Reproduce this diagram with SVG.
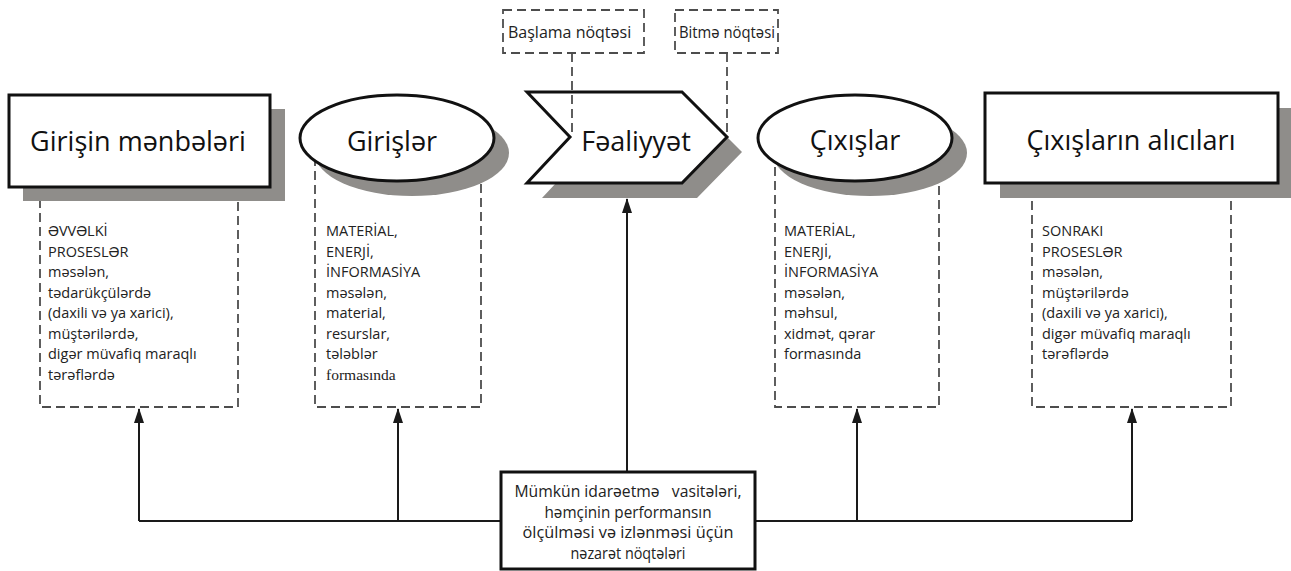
<svg xmlns="http://www.w3.org/2000/svg" width="1291" height="571" viewBox="0 0 1291 571">
<defs>
<marker id="arr" markerUnits="userSpaceOnUse" markerWidth="15" markerHeight="10" refX="14" refY="5" orient="auto">
<path d="M0,0 L15,5 L0,10 Z" fill="#1a1a1a"/>
</marker>
<style>
.sh{fill:#8f8d8a}
.main{fill:#fff;stroke:#111;stroke-width:3}
.dash{fill:none;stroke:#4d4d4d;stroke-width:1.8;stroke-dasharray:9 5}
.title{font-family:"Open Sans","Liberation Sans",sans-serif;font-size:27px;fill:#111;text-anchor:middle}
.body{font-family:"Open Sans","Liberation Sans",sans-serif;font-size:14.5px;fill:#222}
.serif{font-family:"Liberation Serif",serif;font-size:15.5px;fill:#222}
.small{font-family:"Open Sans","Liberation Sans",sans-serif;font-size:16px;fill:#222}
.ctl{font-family:"Open Sans","Liberation Sans",sans-serif;font-size:17px;fill:#222;text-anchor:middle}
.conn{fill:none;stroke:#1a1a1a;stroke-width:2}
</style>
</defs>
<rect width="1291" height="571" fill="#fff"/>

<g id="sources-detail">
<rect class="dash" x="40" y="190" width="198" height="217"/>
<text class="body"><tspan x="48" y="236">ƏVVƏLKİ</tspan><tspan x="48" y="256.5">PROSESLƏR</tspan><tspan x="48" y="277">məsələn,</tspan><tspan x="48" y="297.5">tədarükçülərdə</tspan><tspan x="48" y="318">(daxili və ya xarici),</tspan><tspan x="48" y="338.5">müştərilərdə,</tspan><tspan x="48" y="359">digər müvafiq maraqlı</tspan><tspan x="48" y="379.5">tərəflərdə</tspan></text>
</g>
<g id="inputs-detail">
<rect class="dash" x="315" y="140" width="166" height="267"/>
<text class="body"><tspan x="326" y="236">MATERİAL,</tspan><tspan x="326" y="256.5">ENERJİ,</tspan><tspan x="326" y="277">İNFORMASİYA</tspan><tspan x="326" y="297.5">məsələn,</tspan><tspan x="326" y="318">material,</tspan><tspan x="326" y="338.5">resurslar,</tspan><tspan x="326" y="359">tələblər</tspan></text>
<text class="serif" x="326" y="379.5">formasında</text>
</g>
<g id="outputs-detail">
<rect class="dash" x="775" y="140" width="164" height="267"/>
<text class="body"><tspan x="784" y="236">MATERİAL,</tspan><tspan x="784" y="256.5">ENERJİ,</tspan><tspan x="784" y="277">İNFORMASİYA</tspan><tspan x="784" y="297.5">məsələn,</tspan><tspan x="784" y="318">məhsul,</tspan><tspan x="784" y="338.5">xidmət, qərar</tspan><tspan x="784" y="359">formasında</tspan></text>
</g>
<g id="receivers-detail">
<rect class="dash" x="1032" y="190" width="199" height="217"/>
<text class="body"><tspan x="1042" y="236">SONRAKI</tspan><tspan x="1042" y="256.5">PROSESLƏR</tspan><tspan x="1042" y="277">məsələn,</tspan><tspan x="1042" y="297.5">müştərilərdə</tspan><tspan x="1042" y="318">(daxili və ya xarici),</tspan><tspan x="1042" y="338.5">digər müvafiq maraqlı</tspan><tspan x="1042" y="359">tərəflərdə</tspan></text>
</g>

<g id="sources">
<rect class="sh" x="23" y="109" width="262" height="92"/>
<rect class="main" x="9" y="95" width="261" height="92"/>
<text class="title" x="138" y="151">Girişin mənbələri</text>
</g>
<g id="inputs">
<ellipse class="sh" cx="412" cy="153" rx="97" ry="43"/>
<ellipse class="main" cx="397" cy="138" rx="97" ry="43" stroke-width="2.5"/>
<text class="title" x="392" y="151">Girişlər</text>
</g>
<g id="activity">
<polygon class="sh" points="542,107 697,107 742,152 697,198 542,198 585,152"/>
<polygon class="main" points="527,92 682,92 727,137 682,183 527,183 570,137" stroke-linejoin="miter"/>
<text class="title" x="636" y="151">Fəaliyyət</text>
</g>
<g id="outputs">
<ellipse class="sh" cx="870" cy="153" rx="97" ry="43"/>
<ellipse class="main" cx="855" cy="138" rx="97" ry="43" stroke-width="2.5"/>
<text class="title" x="855" y="150">Çıxışlar</text>
</g>
<g id="receivers">
<rect class="sh" x="1000" y="108" width="291" height="90"/>
<rect class="main" x="985" y="93" width="293" height="90"/>
<text class="title" x="1131" y="150">Çıxışların alıcıları</text>
</g>

<g id="start-point">
<rect class="dash" x="503" y="10" width="141" height="43"/>
<text class="small" x="508" y="38">Başlama nöqtəsi</text>
</g>
<g id="end-point">
<rect class="dash" x="675" y="10" width="103" height="43"/>
<text class="small" x="679" y="38" textLength="96" lengthAdjust="spacingAndGlyphs">Bitmə nöqtəsi</text>
</g>

<g id="connectors">
<line class="dash" x1="572" y1="53" x2="572" y2="135"/>
<line class="dash" x1="727" y1="53" x2="727" y2="135"/>
<polyline class="conn" points="139,521 1132,521"/>
<line class="conn" x1="139" y1="521" x2="139" y2="409" marker-end="url(#arr)"/>
<line class="conn" x1="398" y1="521" x2="398" y2="409" marker-end="url(#arr)"/>
<line class="conn" x1="857" y1="521" x2="857" y2="409" marker-end="url(#arr)"/>
<line class="conn" x1="1132" y1="521" x2="1132" y2="409" marker-end="url(#arr)"/>
<line class="conn" x1="627" y1="472" x2="627" y2="199" marker-end="url(#arr)"/>
</g>

<g id="controls">
<rect x="501" y="472" width="254" height="97" fill="#fff" stroke="#111" stroke-width="3"/>
<text class="ctl" x="628" y="497" textLength="227" lengthAdjust="spacingAndGlyphs" xml:space="preserve">Mümkün idarəetmə   vasitələri,</text>
<text class="ctl" x="628" y="517.5" textLength="167" lengthAdjust="spacingAndGlyphs">həmçinin performansın</text>
<text class="ctl" x="628" y="538" textLength="211" lengthAdjust="spacingAndGlyphs">ölçülməsi və izlənməsi üçün</text>
<text class="ctl" x="628" y="559" textLength="115" lengthAdjust="spacingAndGlyphs">nəzarət nöqtələri</text>
</g>
</svg>
